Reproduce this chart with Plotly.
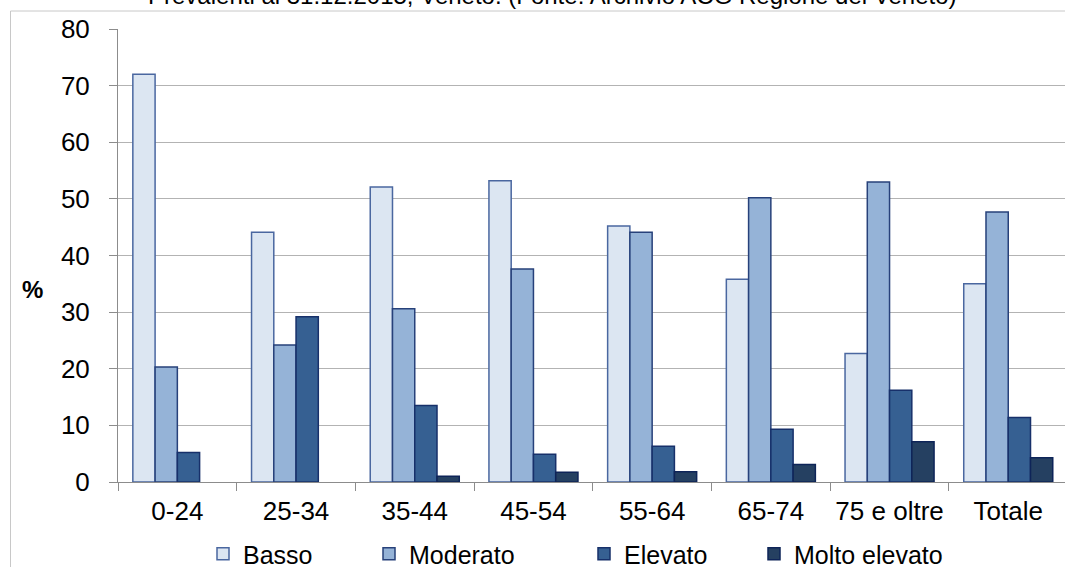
import plotly.graph_objects as go

categories = ["0-24", "25-34", "35-44", "45-54", "55-64", "65-74", "75 e oltre", "Totale"]
basso = [72.0, 44.1, 52.1, 53.2, 45.2, 35.8, 22.7, 35.0]
moderato = [20.3, 24.2, 30.6, 37.6, 44.1, 50.2, 53.0, 47.7]
elevato = [5.2, 29.2, 13.5, 4.9, 6.3, 9.3, 16.2, 11.4]
molto_elevato = [None, None, 1.0, 1.7, 1.8, 3.1, 7.1, 4.3]
y_ticks = [0, 10, 20, 30, 40, 50, 60, 70, 80]

series = [
    ("Basso", basso, "#DCE6F2", "#4A67A0"),
    ("Moderato", moderato, "#95B3D7", "#27417A"),
    ("Elevato", elevato, "#366092", "#17306A"),
    ("Molto elevato", molto_elevato, "#254061", "#0E2458"),
]

W, H = 1065, 567
L, R, T, B = 118, 0, 29, 85
plot_w = W - L - R
plot_h = H - T - B
cat_px = 118.7  # width of one category slot

FONT = "Liberation Sans, Arial, sans-serif"

fig = go.Figure()
legend_x = [203, 369, 584, 754]
for i, (name, vals, fill, edge) in enumerate(series):
    lg = "legend" if i == 0 else f"legend{i + 1}"
    fig.add_trace(go.Bar(
        x=categories, y=vals, name=name,
        marker=dict(color=fill, line=dict(color=edge, width=1.5)),
        legend=lg,
    ))

layout_legends = {}
for i, px in enumerate(legend_x):
    key = "legend" if i == 0 else f"legend{i + 1}"
    layout_legends[key] = dict(
        x=px / W, xref="container", xanchor="left",
        y=1 - 554 / H, yref="container", yanchor="middle",
        orientation="h", bgcolor="rgba(0,0,0,0)", borderwidth=0,
        font=dict(family=FONT, size=25, color="#000000"),
        itemwidth=30, tracegroupgap=0,
    )

fig.update_layout(
    width=W, height=H,
    margin=dict(l=L, r=R, t=T, b=B, pad=0),
    paper_bgcolor="white", plot_bgcolor="white",
    barmode="group", bargap=0.25, bargroupgap=0,
    showlegend=True,
    font=dict(family=FONT, size=26, color="#000000"),
    **layout_legends,
)

fig.update_xaxes(
    type="category",
    range=[-0.5, -0.5 + plot_w / cat_px],
    showline=True, linecolor="#8C8C8C", linewidth=1,
    ticks="outside", tickson="boundaries", ticklen=8, tickcolor="#8C8C8C",
    showgrid=False, ticklabelstandoff=6,
    tickfont=dict(family=FONT, size=26, color="#000000"),
)
fig.update_yaxes(
    range=[0, 80], tickvals=y_ticks,
    showline=True, linecolor="#8C8C8C", linewidth=1,
    ticks="outside", ticklen=8, tickcolor="#8C8C8C",
    showgrid=True, gridcolor="#B3B3B3", gridwidth=1,
    zeroline=False, ticklabelstandoff=14,
    tickfont=dict(family=FONT, size=26, color="#000000"),
)

# outer chart frame (top and left edges visible)
def px_x(p):
    return (p - L) / plot_w

def px_y(p):
    return (H - B - p) / plot_h

fig.add_shape(
    type="rect", xref="paper", yref="paper",
    x0=px_x(10.5), x1=px_x(W + 20), y0=px_y(H + 20), y1=px_y(11),
    line=dict(color="#C8C8C8", width=1), fillcolor="rgba(0,0,0,0)", layer="below",
)

fig.add_annotation(
    text="Prevalenti al 31.12.2015, Veneto. (Fonte: Archivio ACG Regione del Veneto)",
    xref="paper", yref="paper", x=px_x(552), y=px_y(-5),
    xanchor="center", yanchor="middle", showarrow=False,
    font=dict(family=FONT, size=24, color="#000000"),
)
fig.add_annotation(
    text="<b>%</b>", xref="paper", yref="paper", x=px_x(32), y=px_y(289),
    xanchor="center", yanchor="middle", showarrow=False,
    font=dict(family=FONT, size=24, color="#000000"),
)

fig.write_html("out.html")
